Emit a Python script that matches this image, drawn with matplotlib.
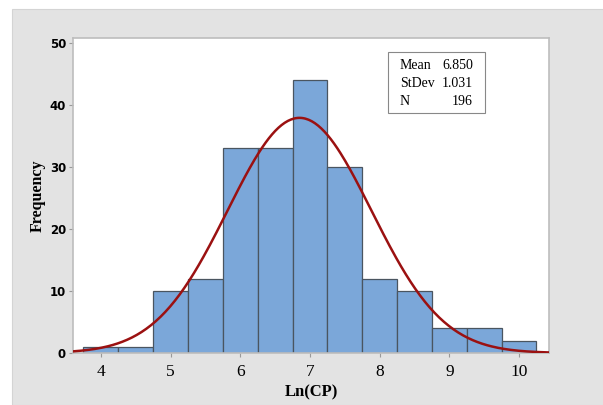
import numpy as np
import matplotlib
matplotlib.use('Agg')
import matplotlib.pyplot as plt
from matplotlib.patches import Rectangle

# histogram bins (left edges) and counts
bin_lefts = [3.75, 4.25, 4.75, 5.25, 5.75, 6.25, 6.75, 7.25, 7.75, 8.25, 8.75, 9.25, 9.75]
counts = [1, 1, 10, 12, 33, 33, 44, 30, 12, 10, 4, 4, 2]
bin_width = 0.5

mean = 6.850
stdev = 1.031
n = 196

fig = plt.figure(figsize=(6.03, 4.05), dpi=100, facecolor='white')
# grey panel behind the plot
fig.patches.append(Rectangle((12 / 603, 0), 1, 1 - 9 / 405, transform=fig.transFigure,
                             facecolor='#e3e3e3', edgecolor='#d4d4d4', lw=0.8, zorder=-1))

ax = fig.add_axes([73 / 603, 1 - 353 / 405, (549 - 73) / 603, (353 - 38) / 405])
ax.set_facecolor('white')

ax.bar(bin_lefts, counts, width=bin_width, align='edge', color='#7ba7d9',
       edgecolor='#4a5560', linewidth=0.9, zorder=2)

# fitted normal curve
xs = np.linspace(3.6, 10.43, 300)
ys = n * bin_width / (stdev * np.sqrt(2 * np.pi)) * np.exp(-0.5 * ((xs - mean) / stdev) ** 2)
ax.plot(xs, ys, color='#9b1111', lw=1.8, zorder=3)

ax.set_xlim(3.6, 10.43)
ax.set_ylim(0, 50.8)
ax.set_xticks([4, 5, 6, 7, 8, 9, 10])
ax.set_yticks([0, 10, 20, 30, 40, 50])

for s in ax.spines.values():
    s.set_color('#bdbdbd')
    s.set_linewidth(1.2)

ax.tick_params(axis='x', length=3, color='#999999', labelsize=12.5, pad=5)
ax.tick_params(axis='y', length=3, color='#999999', labelsize=8.5, pad=2)
for lab in ax.get_xticklabels():
    lab.set_fontfamily('Liberation Serif')
for lab in ax.get_yticklabels():
    lab.set_fontfamily('DejaVu Sans')
    lab.set_fontweight('bold')

ax.set_xlabel('Ln(CP)', fontfamily='Liberation Serif', fontweight='bold', fontsize=12, labelpad=3)
ax.set_ylabel('Frequency', fontfamily='Liberation Serif', fontweight='bold', fontsize=11.5, labelpad=3)

# stats box
box = Rectangle((0.662, 0.762), 0.204, 0.194, transform=ax.transAxes,
                facecolor='white', edgecolor='#888888', lw=0.8, zorder=4)
ax.add_patch(box)
rows = [('Mean', f'{mean:.3f}'), ('StDev', f'{stdev:.3f}'), ('N', f'{n}')]
row_y = [0.914, 0.854, 0.797]
for (k, v), y in zip(rows, row_y):
    ax.text(0.687, y, k, transform=ax.transAxes, fontfamily='Liberation Serif',
            fontsize=10, va='center', zorder=5)
    ax.text(0.840, y, v, transform=ax.transAxes, fontfamily='Liberation Serif',
            fontsize=10, va='center', ha='right', zorder=5)

fig.savefig('out.png', dpi=100, facecolor=fig.get_facecolor())
